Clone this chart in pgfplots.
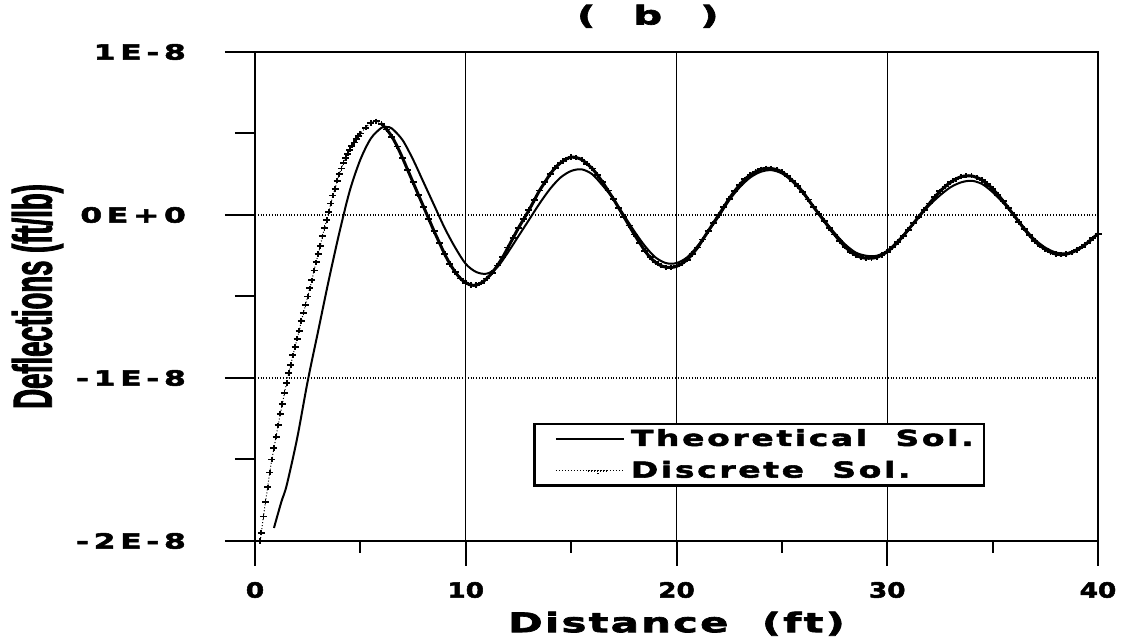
\documentclass[border=0pt]{standalone}
\usepackage{pgfplots}
\pgfplotsset{compat=1.18}
\usepackage{pgfplotstable}
\usepackage{fontspec}
\newfontfamily\xtickfont{DejaVu Sans Bold}[FakeStretch=1.25,LetterSpace=0,FakeBold=2.5]
\newfontfamily\ytickfont{DejaVu Sans Bold}[FakeStretch=1.5,LetterSpace=22,FakeBold=2.5]
\newfontfamily\legfont{DejaVu Sans Bold}[FakeStretch=1.5,LetterSpace=12,FakeBold=2.5]
\newfontfamily\labfont{DejaVu Sans Bold}[FakeStretch=1.55,LetterSpace=8,FakeBold=2.5]
\newfontfamily\ylabfont{Liberation Sans Bold}[FakeStretch=0.5,FakeBold=1.5]

\pgfplotstableread{
x y
0.9 -19.2
1.25 -17.6
1.5 -16.6
2.0 -13.7
2.5 -10.2
3.0 -7.1
3.5 -4.0
4.0 -1.1
4.5 1.5
5.0 3.4
5.5 4.7
6.0 5.35
6.25 5.4
6.5 5.3
7.0 4.6
7.5 3.4
8.0 2.0
8.5 0.6
9.0 -0.8
9.5 -2.0
10.0 -3.0
10.5 -3.5
11.0 -3.6
11.5 -3.2
12.0 -2.3
12.5 -1.3
13.0 -0.3
13.5 0.7
14.0 1.6
14.5 2.3
15.0 2.7
15.5 2.8
16.0 2.5
16.5 1.8
17.0 1.0
17.5 0.0
18.0 -1.0
18.5 -1.9
19.0 -2.6
19.5 -2.95
20.0 -2.95
20.5 -2.6
21.0 -1.9
21.5 -1.0
22.0 -0.1
22.5 0.9
23.0 1.7
23.5 2.3
24.0 2.65
24.5 2.75
25.0 2.55
25.5 2.05
26.0 1.35
26.5 0.5
27.0 -0.3
27.5 -1.1
28.0 -1.8
28.5 -2.3
29.0 -2.5
29.5 -2.5
30.0 -2.2
30.5 -1.6
31.0 -0.9
31.5 -0.1
32.0 0.6
32.5 1.2
33.0 1.7
33.5 2.0
34.0 2.1
34.5 1.9
35.0 1.4
35.5 0.75
36.0 0.0
36.5 -0.8
37.0 -1.5
37.5 -2.0
38.0 -2.3
38.5 -2.35
39.0 -2.1
39.5 -1.7
40.0 -1.15
}\theo

\pgfplotstableread{
x y
0.25 -20.0
0.3 -19.5
0.4 -18.5
0.5 -17.6
0.6 -16.7
0.7 -15.8
0.8 -15.0
0.9 -14.3
1.0 -13.6
1.1 -12.9
1.2 -12.2
1.3 -11.6
1.4 -10.9
1.5 -10.3
1.6 -9.7
1.7 -9.2
1.8 -8.6
1.9 -8.1
2.0 -7.6
2.1 -7.1
2.2 -6.5
2.3 -6.0
2.4 -5.5
2.5 -5.0
2.6 -4.5
2.7 -4.0
2.8 -3.4
2.9 -2.9
3.0 -2.4
3.1 -1.9
3.2 -1.3
3.3 -0.8
3.4 -0.3
3.5 0.2
3.6 0.7
3.7 1.2
3.8 1.6
3.9 2.1
4.0 2.5
4.1 2.85
4.2 3.2
4.3 3.5
4.4 3.75
4.5 4.0
4.6 4.25
4.7 4.45
4.8 4.65
4.9 4.85
5.0 5.0
5.25 5.35
5.5 5.65
5.75 5.75
6.0 5.6
6.25 5.25
6.5 4.8
6.75 4.2
7.0 3.5
7.25 2.75
7.5 2.0
7.75 1.25
8.0 0.5
8.25 -0.25
8.5 -1.0
8.75 -1.7
9.0 -2.4
9.25 -3.0
9.5 -3.5
9.75 -3.9
10.0 -4.15
10.25 -4.3
10.5 -4.3
10.75 -4.15
11.0 -3.9
11.25 -3.55
11.5 -3.1
11.75 -2.6
12.0 -2.0
12.25 -1.4
12.5 -0.8
12.75 -0.25
13.0 0.3
13.25 0.9
13.5 1.5
13.75 2.0
14.0 2.5
14.25 2.9
14.5 3.2
14.75 3.42
15.0 3.55
15.25 3.52
15.5 3.4
15.75 3.15
16.0 2.85
16.25 2.45
16.5 2.0
16.75 1.5
17.0 1.0
17.25 0.45
17.5 -0.1
17.75 -0.65
18.0 -1.2
18.25 -1.7
18.5 -2.2
18.75 -2.6
19.0 -2.9
19.25 -3.1
19.5 -3.2
19.75 -3.22
20.0 -3.15
20.25 -2.98
20.5 -2.75
20.75 -2.4
21.0 -2.0
21.25 -1.5
21.5 -1.0
21.75 -0.5
22.0 0.0
22.25 0.5
22.5 1.0
22.75 1.45
23.0 1.85
23.25 2.2
23.5 2.45
23.75 2.65
24.0 2.8
24.25 2.86
24.5 2.85
24.75 2.78
25.0 2.65
25.25 2.4
25.5 2.1
25.75 1.78
26.0 1.4
26.25 0.95
26.5 0.5
26.75 0.07
27.0 -0.35
27.25 -0.8
27.5 -1.2
27.75 -1.6
28.0 -1.95
28.25 -2.25
28.5 -2.45
28.75 -2.6
29.0 -2.65
29.25 -2.65
29.5 -2.6
29.75 -2.45
30.0 -2.25
30.25 -1.98
30.5 -1.65
30.75 -1.3
31.0 -0.9
31.25 -0.5
31.5 -0.1
31.75 0.3
32.0 0.7
32.25 1.1
32.5 1.45
32.75 1.75
33.0 2.0
33.25 2.2
33.5 2.35
33.75 2.4
34.0 2.4
34.25 2.3
34.5 2.15
34.75 1.9
35.0 1.6
35.25 1.25
35.5 0.85
35.75 0.43
36.0 0.0
36.25 -0.43
36.5 -0.85
36.75 -1.25
37.0 -1.6
37.25 -1.88
37.5 -2.1
37.75 -2.28
38.0 -2.4
38.25 -2.43
38.5 -2.4
38.75 -2.3
39.0 -2.15
39.25 -1.95
39.5 -1.7
39.75 -1.43
40.0 -1.15
}\disc

\begin{document}
\begin{tikzpicture}
\begin{axis}[
  scale only axis,
  width=421.5pt, height=244.5pt,
  xmin=0, xmax=40, ymin=-20, ymax=10,
  axis line style={line width=1.4pt},
  xtick={0,10,20,30,40},
  xticklabels={0,10,20,30,40},
  minor xtick={5,15,25,35},
  ytick={-20,-10,0,10},
  yticklabels={-2E-8,-1E-8,0E+0,1E-8},
  minor ytick={-15,-5,5},
  tick align=outside,
  tick pos=left,
  major tick length=15pt,
  minor tick length=10pt,
  xtick style={/pgfplots/major tick length=12.5pt, /pgfplots/minor tick length=6pt},
  tick style={line width=1pt, black},
  xticklabel style={font=\xtickfont\fontsize{10.5}{12}\selectfont, yshift=-2pt},
  yticklabel style={font=\ytickfont\fontsize{10.5}{12}\selectfont, xshift=-16pt},
  xmajorgrids, ymajorgrids,
  major x grid style={solid, line width=0.6pt, black},
  major y grid style={densely dotted, line width=0.7pt, black},
  title={(\hspace{19pt}b\hspace{19pt})},
  title style={font=\labfont\fontsize{13}{14}\selectfont, at={(0.466,1)}, anchor=south, yshift=2.5pt},
  xlabel={Distance\ \ (ft)},
  xlabel style={font=\labfont\fontsize{13.5}{15}\selectfont, yshift=0pt},
  ylabel={Deflections (ft/lb)},
  ylabel style={font=\ylabfont\fontsize{27.5}{29}\selectfont, at={(axis description cs:-0.258,0.5)}, anchor=center},
  legend style={at={(0.33,0.2413)}, anchor=north west, draw=black, line width=1.2pt,
    font=\legfont\fontsize{11}{12}\selectfont, inner xsep=2pt, inner ysep=1pt,
    nodes={inner xsep=3pt, inner ysep=1.5pt}, row sep=3pt, cells={anchor=west}},
  legend cell align=left,
]
\addplot[black, line width=1pt, smooth,
  legend image code/.code={\node[draw=none, fill=none, inner sep=0pt, minimum width=9pt, minimum height=1pt, anchor=west] at (0,0) {}; \draw[black, line width=1pt] (9pt,0)--(43pt,0);}
  ] table[x=x,y=y]{\theo};
\addlegendentry{Theoretical\ \ Sol.}
\addplot[black, line width=0.5pt, densely dotted, smooth,
  mark=+, mark size=1.75pt, mark options={solid, line width=0.9pt, yscale=0.75},
  legend image code/.code={\node[draw=none, fill=none, inner sep=0pt, minimum width=9pt, minimum height=1pt, anchor=west] at (0,0) {}; \draw[black, densely dotted, line width=0.5pt] (9pt,0)--(43pt,0); \draw[black, line width=0.9pt] (25pt,0)--(35pt,0) (30pt,-1.4pt)--(30pt,1.4pt);}
  ] table[x=x,y=y]{\disc};
\addlegendentry{Discrete\ \ Sol.}
\addplot[black, line width=1.5pt, smooth, forget plot, restrict x to domain=6:40] table[x=x,y=y]{\disc};
\end{axis}
\pgfresetboundingbox
\path (current axis.south west) ++(-127.5pt,-49pt) rectangle ([shift={(15pt,26pt)}]current axis.north east);
\end{tikzpicture}
\end{document}
